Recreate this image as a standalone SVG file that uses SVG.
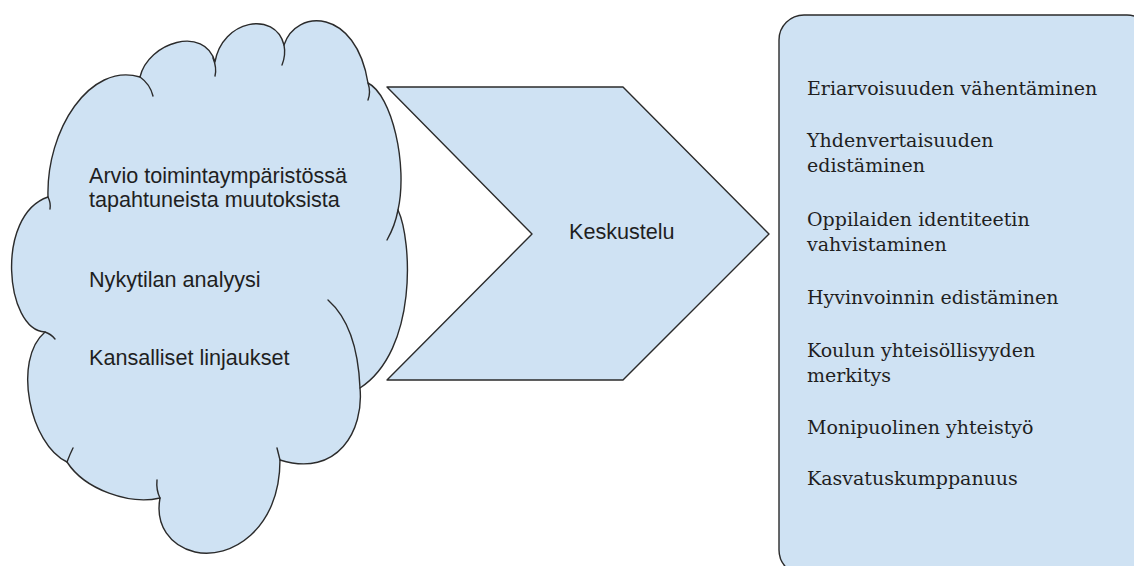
<svg xmlns="http://www.w3.org/2000/svg" width="1134" height="566" viewBox="0 0 1134 566">
<style>
.shape{fill:#cfe2f3;stroke:#2b2b2b;stroke-width:1.4;stroke-linejoin:round}
.tail{fill:none;stroke:#2b2b2b;stroke-width:1.4;stroke-linecap:round}
.sans{font-family:"Liberation Sans",Arial,sans-serif;font-size:21.6px;fill:#1f1f1f}
.serif{font-family:"DejaVu Serif","Liberation Serif",serif;font-size:19px;fill:#1f1f1f}
</style>
<rect width="1134" height="566" fill="#ffffff"/>
<g id="chevron">
<path class="shape" d="M387,87 L623,87 L769,234 L623,380 L387,380 L532,234 Z"/>
<text class="sans" x="569" y="239">Keskustelu</text>
</g>
<g id="cloud">
<path class="shape" d="M45,332 C5,330 -5,215 48,197 C46,130 90,62 140,77 C148,42 205,25 215,62 C222,20 275,10 284,45 C296,8 356,8 368,83 C392,95 408,165 398,210 C412,240 418,350 360,388 C364,430 338,478 280,460 C280,530 230,560 195,552 C170,546 155,525 160,498 C130,505 85,490 67,462 C30,445 12,360 45,332 Z"/>
<path class="tail" d="M48,197 Q51,203 50,209"/>
<path class="tail" d="M140,77 Q150,84 153,96"/>
<path class="tail" d="M213,58 Q217,68 215,76"/>
<path class="tail" d="M284,45 Q286,55 282,65"/>
<path class="tail" d="M368,83 Q371,92 368,100"/>
<path class="tail" d="M398,210 Q395,226 387,240"/>
<path class="tail" d="M328,300 C345,315 358,340 360,388"/>
<path class="tail" d="M280,460 Q278,452 277,448"/>
<path class="tail" d="M160,498 Q156,490 157,480"/>
<path class="tail" d="M67,462 Q70,454 73,448"/>
<path class="tail" d="M45,332 Q51,334 55,339"/>
<text class="sans" x="89" y="183">Arvio toimintaympäristössä</text>
<text class="sans" x="89" y="207">tapahtuneista muutoksista</text>
<text class="sans" x="89" y="287">Nykytilan analyysi</text>
<text class="sans" x="89" y="365">Kansalliset linjaukset</text>
</g>
<g id="goals">
<rect class="shape" x="779" y="15" width="373" height="560" rx="25" ry="25"/>
<text class="serif" x="807" y="95">Eriarvoisuuden vähentäminen</text>
<text class="serif" x="807" y="147">Yhdenvertaisuuden</text>
<text class="serif" x="807" y="172">edistäminen</text>
<text class="serif" x="807" y="226">Oppilaiden identiteetin</text>
<text class="serif" x="807" y="251">vahvistaminen</text>
<text class="serif" x="807" y="304">Hyvinvoinnin edistäminen</text>
<text class="serif" x="807" y="357">Koulun yhteisöllisyyden</text>
<text class="serif" x="807" y="382">merkitys</text>
<text class="serif" x="807" y="434">Monipuolinen yhteistyö</text>
<text class="serif" x="807" y="485">Kasvatuskumppanuus</text>
</g>
<g id="connectors"></g>
</svg>
